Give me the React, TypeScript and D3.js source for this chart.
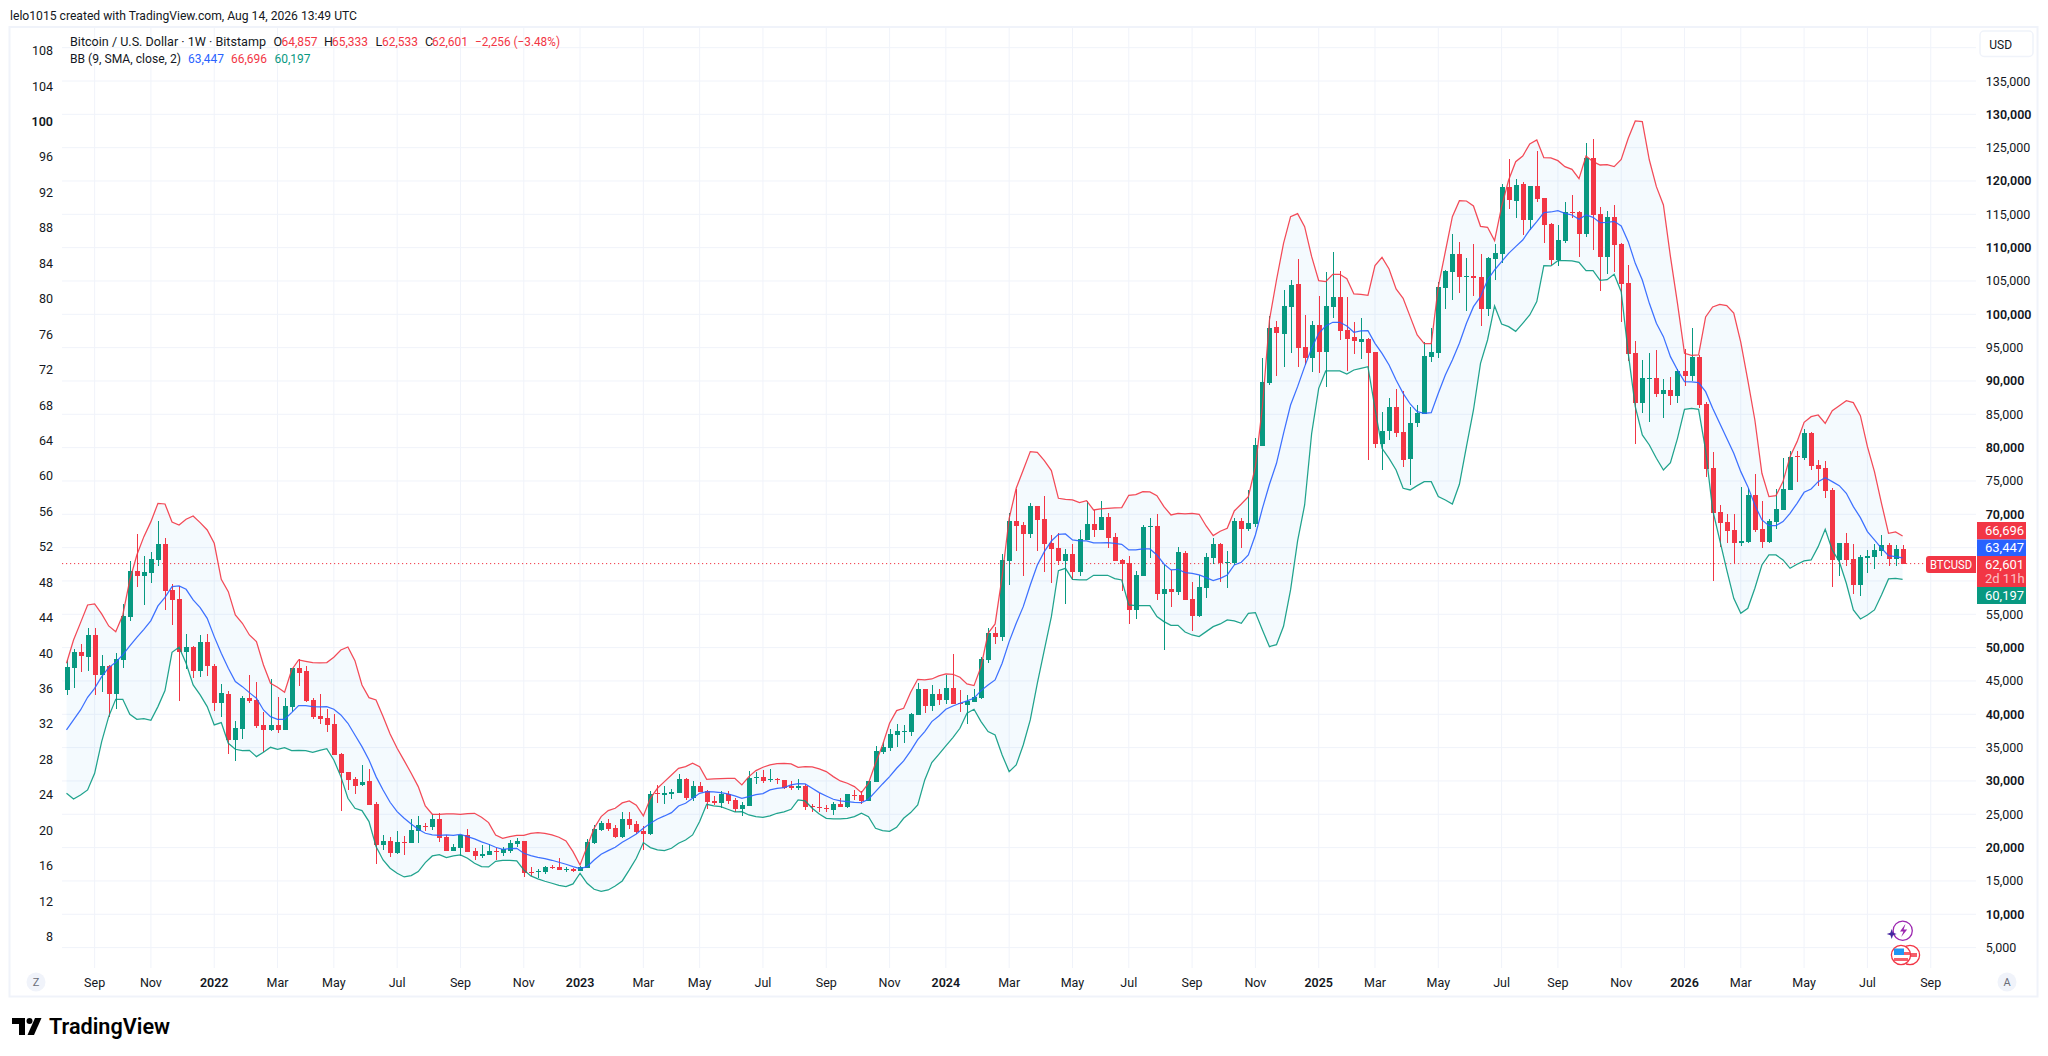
import React from "react";
import * as d3 from "d3";

// Weekly candles from the week of 9 Aug 2021, USD thousands
const opens = [
43.65,47.0,49.35,48.6,51.9,45.9,47.3,43.05,48.15,54.6,
61.5,60.75,61.2,63.15,65.55,58.65,57.3,49.35,50.1,46.5,
50.85,47.25,41.7,43.05,36.15,37.8,42.45,42.15,38.4,37.65,
38.4,37.65,41.1,46.95,46.5,42.15,39.75,39.45,38.55,34.05,
31.35,30.3,29.4,30,26.55,20.4,21,19.2,20.85,20.7,
22.5,23.25,23.1,24.3,21.65,19.5,19.95,21.9,19.5,18.75,
18.9,19.5,19.2,19.5,20.55,21,16.35,16.3,16.35,17.1,
17.1,16.75,16.8,16.5,16.95,20.7,22.65,23.7,22.95,21.6,
24.3,23.55,22.5,22.05,28.15,27.9,28.05,28.2,30.3,27.45,
29.25,28.5,27,26.7,28.05,27.15,25.8,26.25,30.45,30.6,
30.15,30.3,30.15,29.25,28.95,29.25,26.2,26.1,25.95,25.65,
26.55,26.1,27.9,27.9,27,29.85,34.35,34.95,36.9,37.4,
37.35,39.9,43.8,41.25,43.05,42.15,43.95,41.7,41.4,41.85,
42.45,48.15,52.2,51.6,63,69,68.4,67.05,71.25,69.3,
65.7,64.95,63,64.05,61.35,66.15,68.55,67.65,69.6,66.6,
63.15,62.7,55.65,60.75,68.15,68.25,58.05,58.8,58.35,64.2,
57.3,54.75,58.95,63.45,65.55,62.75,62.7,69,67.8,68.55,
80.25,89.7,98.1,97.05,101.1,104.55,95.1,93.45,98.4,94.35,
101.1,102.6,97.65,96.6,95.85,96.3,94.35,80.55,82.5,86.1,
82.35,78.3,83.7,85.05,93.6,94.2,103.95,106.35,109.05,105.65,
105.75,105.6,100.8,108.3,109.05,119.1,117,119.55,114.15,119.25,
117.45,113.55,108.15,111,115.35,115.35,112.05,123.45,115.05,108.6,
114.6,110.55,104.7,94.2,86.7,90.35,90.45,88.05,88.65,87.75,
91.5,90.75,93.6,86.55,76.95,70.35,68.85,67.65,65.7,65.85,
72.9,67.8,65.85,68.85,70.65,73.65,78.7,78.45,82.2,77.4,
76.95,73.65,63.15,65.7,63.3,59.4,63.45,63.6,64.5,65.4,
63.3,64.857];

const closes = [
47.15,49.35,48.75,51.9,45.9,47.25,43.05,48.3,54.75,61.5,
60.75,61.35,63.3,65.55,58.5,57.15,49.35,50.1,46.5,50.85,
47.25,41.7,43.2,36.15,37.95,42.45,42,38.25,37.65,38.4,
37.65,41.25,46.95,46.2,42,39.6,39.3,38.4,33.9,31.2,
30.15,29.25,29.85,26.4,20.4,21,19.2,20.85,20.8,22.65,
23.4,23.1,24.3,21.45,19.5,20.1,21.9,19.35,18.75,19.05,
19.5,19.35,19.8,20.7,21,16.2,16.3,16.5,17.1,17.05,
16.65,16.8,16.5,17.1,20.85,22.8,23.7,22.8,21.6,24.3,
23.4,22.35,22.05,28.05,28.05,28.2,28.35,30.3,27.45,29.25,
28.35,26.85,26.7,28.05,27,25.8,26.4,30.45,30.55,30,
30.3,30.1,28.95,28.95,29.25,26.1,26.1,26,25.9,26.55,
26.1,28.05,27.85,27,30,34.5,35.1,37.05,37.5,37.5,
40.05,43.8,41.25,43.05,42.15,43.95,41.55,41.65,42,42.6,
48.3,52.2,51.6,63.15,69,68.25,67.05,71.25,69.15,65.55,
64.8,63,64.05,61.35,66.3,68.55,67.65,69.6,66.45,63,
62.55,55.65,60.9,68.1,68.25,58.05,58.8,58.35,64.35,57.15,
54.75,59.1,63.6,65.55,62.7,62.85,69,67.8,68.7,80.4,
89.85,97.95,97.2,101.25,104.4,94.95,93.45,98.4,94.35,101.25,
102.6,97.5,96.3,96,96.3,94.2,80.55,82.5,86.1,82.2,
78.15,83.7,85.2,93.75,94.35,104.1,106.5,109.05,105.6,105.75,
105.45,100.8,108.45,109.2,119.1,117.15,119.4,114.15,119.25,117.3,
113.4,108.15,111.15,115.35,115.15,112.05,123.45,114.9,108.6,114.6,
110.4,104.55,94.05,86.7,90.45,90.45,88.05,88.65,87.75,91.5,
90.75,93.6,86.4,76.8,70.2,68.7,67.5,65.7,66,72.9,
67.65,65.85,69,70.8,73.8,78.6,78.6,82.2,77.25,76.8,
73.5,63.15,65.7,63.15,59.4,63.6,63.75,64.65,65.4,63.3,
64.8,62.601];

const highs = [
48.15,49.8,50.55,52.9,52.95,48.9,47.4,49.15,56.55,63,
67.05,63.75,64.35,69,66.45,59.55,59.25,52.05,50.25,51.9,
52.05,47.55,44.55,43.5,39,42.75,45.9,44.85,40.35,45.3,
42.65,42.45,46.95,48.3,47.25,42.45,43.05,40.8,40.05,34.15,
31.35,30.6,32.4,31.8,26.85,21.9,21.6,22.5,21.75,24.3,
24.75,23.7,25.05,25.2,21.9,20.55,21.9,22.8,19.95,20.4,
20.55,19.95,20.1,21.15,21.45,21,17.1,16.8,17.25,17.4,
18.45,17.1,16.95,17.25,21.3,23.4,24,24.3,23.4,25.35,
25.35,24,23.25,28.5,29.4,29.25,28.8,31.05,30.45,30,
29.85,28.65,27.75,28.5,28.5,27.45,26.85,31.5,31.35,31.65,
31.8,30.45,30.15,30,30.3,29.55,26.55,28.2,26.4,26.85,
27.45,28.05,28.65,28.5,30,35.25,35.85,37.8,38.55,38.4,
40.2,44.7,43.8,44.4,43.8,45.9,49.05,43.65,42.9,43.8,
48.6,52.95,53.1,64.05,70.2,73.8,68.85,71.7,71.25,72.75,
66.9,67.2,64.8,65.55,67.65,72,70.65,72,70.2,67.2,
63.3,63.75,61.5,68.4,69.45,70.05,62.4,61.65,65.1,64.5,
59.85,60.9,64.2,66.45,65.7,64.5,69.45,69.45,73.65,81.45,
93.45,99.75,99,103.65,105.15,108.3,99.9,99,102.75,106.35,
109.35,106.5,102.6,98.85,99.45,96.45,94.35,85.35,87.45,88.8,
88.5,86.1,86.4,95.85,97.95,104.85,106.65,112.05,110.85,108.45,
110.55,109.05,108.6,110.55,119.55,123.3,120.3,119.85,119.25,124.5,
117.45,113.7,113.4,116.85,117.9,115.5,125.7,126.3,116.1,115.5,
116.4,110.7,107.4,96,93.15,94.2,94.65,90.3,90.6,91.8,
94.8,97.95,93.9,86.9,79.35,71.4,70.05,70.05,74.1,73.95,
76.05,72,69.3,73.8,78.45,79.5,79.5,82.8,82.35,78.15,
78,73.95,65.7,67.2,65.55,63.9,64.65,65.55,66.9,65.7,
65.4,65.333];

const lows = [
42.9,43.95,46.35,46.5,42.9,43.35,39.55,40.8,47,54.05,
59.1,56.4,59.7,62.25,55.65,53.4,42,46.8,45.45,45.6,
45.75,40.5,39.6,34.05,33,36.3,41.7,37.95,34.35,37.5,
37.2,37.65,40.35,44.25,41.85,39.3,38.55,37.4,33.9,25.5,
28.65,28.05,29.25,26.4,17.55,19.65,18.6,19.05,18.9,20.7,
20.7,22.5,22.65,20.85,19.5,19.5,18.75,19.35,18.15,18.45,
18.9,18.15,18.75,19.2,20.1,15.6,15.75,15.45,16.05,16.8,
16.65,16.35,16.35,16.5,16.95,20.55,22.5,22.5,21.45,21.45,
22.8,22.05,19.65,21.9,26.7,26.55,27.3,28.2,27.15,27,
28.35,25.8,26.4,25.95,26.55,25.35,24.75,26.25,29.55,29.7,
29.85,29.55,28.8,28.65,28.65,25.65,25.35,25.35,25.35,24.9,
26.1,25.95,27.15,26.55,27,29.85,34.05,34.5,35.1,35.7,
36.75,39.9,40.2,40.5,41.4,41.55,41.55,40.35,38.55,41.85,
42.3,47.7,50.55,51,59.4,64.5,60.75,66.45,64.5,61.35,
59.7,62.4,56.55,60.15,60.75,66.15,66.6,67.65,64.95,63,
58.5,53.55,54.3,60.75,63.45,57.15,49.65,56.1,57.9,57.15,
52.5,54.6,57.45,62.55,59.85,58.95,62.4,64.95,67.5,68.1,
80.25,89.4,90.75,92.1,94.2,92.1,92.4,91.35,91.2,89.1,
99.45,96.15,91.5,94.05,93.3,78.15,79.95,76.65,81.15,81.6,
77.1,74.4,83.1,85.05,92.85,93.45,100.8,102.15,103.2,100.5,
102.75,98.25,99.75,105.15,107.7,115.8,114.45,111.9,112.65,116.85,
110.7,107.4,107.25,110.7,114.45,108.6,111.6,109.65,103.5,106.05,
106.35,98.85,93,80.55,85.2,83.85,87.6,84.45,86.4,86.7,
89.25,90,85.9,75.6,60,65.1,65.7,62.55,65.25,65.7,
67.35,64.95,65.7,67.8,70.65,73.65,74.85,78.15,76.65,74.25,
72.45,59.1,60.75,62.25,58.05,57.75,61.2,61.8,63.75,62.25,
62.25,62.533];

const bbUpper = [
47.65,51.15,53.75,56.4,56.55,55.05,53.25,52.4,54.9,60.15,
63.9,66.65,68.9,71.65,71.55,68.85,68.4,69.25,69.75,68.75,
67.65,65.65,60.25,58.4,54.9,53.65,51.9,50.9,47.4,44.65,
44.05,43.3,46.65,48.15,47.95,47.75,47.7,47.75,48.55,49.65,
50.1,48.05,44.4,42.5,42.15,39.65,37.05,34.9,33.05,31.15,
29.15,26.25,25,25,25.05,25.05,25,25.1,25.15,24.55,
23.75,21.9,21.4,21.65,21.85,21.85,22.15,22.25,22.15,21.9,
21.55,21,19.4,17.4,20.15,22.9,24.65,25.55,25.9,26.7,
27,26.35,24.75,27.4,28.9,29.9,30.9,31.9,32.15,32.65,
32.15,30.25,30.3,30.35,30.4,30.4,29.4,30.65,31.55,32.05,
32.4,32.6,32.65,32.55,32.05,32.15,32.1,31.8,31.4,30.65,
30,29.65,29.15,28.25,29.65,32.65,35.4,38.65,40.55,40.9,
43.3,45.25,45.15,45.3,45.75,46.05,46,45.55,44.55,44.3,
47.15,52.15,53.55,60.65,69.4,73.9,76.65,79.4,79.3,78.05,
76.55,72.4,72.25,72.15,71.75,72.05,70.65,70.8,70.9,70.95,
71,72.85,72.95,73.4,73.35,72.8,71.15,69.9,70.15,70.05,
70.15,70,68.25,66.8,67.45,67.9,70.5,71.55,72.65,77.15,
86.15,99.15,105.15,110.65,114.65,115.1,113.15,108.65,105.05,104.9,
106,106,105.35,103.05,103,102.85,107.3,108.55,106.8,103.8,
102.4,99.65,96.9,95.6,95.6,104.15,109.4,114.65,117.05,117,
116.25,113.2,113.05,111.05,116.15,120.15,122.9,123.75,125.55,126.15,
123.5,123.45,123.05,122.15,121.75,120.35,123.75,122.9,122.4,122.45,
122.15,123.25,126.4,129,128.9,123.15,119.15,116.4,108.65,101.65,
94.15,93.85,93.9,99.6,101.1,101.5,101.3,100.2,95.8,90.1,
84.15,76.15,72.65,72.8,74.9,78.65,80.9,83.8,84.65,84.9,
83.65,85.55,86.3,87.05,86.75,84.8,80.15,76.4,71.65,67.15,
67.35,66.75];

const bbMiddle = [
37.65,39.15,40.65,42.55,43.9,45.65,47,47.8,48.9,50.25,
51.55,52.75,54.05,56.25,57.55,59.15,59.25,58.75,57.15,56,
54.4,51.65,49.15,46.9,44.9,44.15,43.25,42.4,40.65,39.65,
39.25,39.25,40.25,41.3,41.3,41.15,41.1,41.15,40.75,39.9,
38.65,36.9,35.15,33.15,30.65,28.65,26.8,25.4,24.4,23.55,
22.75,22.15,21.9,21.85,21.9,21.85,22,21.65,21.3,20.85,
20.5,20.05,19.75,19.85,19.9,19.15,18.8,18.55,18.35,18.1,
17.8,17.5,17.15,16.85,17.15,18.15,19,19.55,20.05,20.8,
21.4,22.05,22.9,23.65,24.3,24.75,25.25,26.25,26.65,27.4,
28.15,28.4,28.35,28.25,28.05,27.75,27.4,27.65,27.95,28.1,
28.65,28.9,29,29.4,29.6,29.55,28.9,28.25,27.75,27.25,
27,26.9,26.8,26.75,27.25,28.4,29.55,30.65,31.9,33,
34.5,36.2,37.4,38.9,39.75,40.75,41.25,41.65,42,42.4,
43.55,44.4,45.15,47.65,50.9,53.65,56.15,59.4,62.4,64.4,
66,67,67.05,66.15,66,66,65.7,65.7,65.75,65.65,
65.5,64.65,64.65,64.8,64.8,63.9,62.55,61.65,61.75,61.25,
61.15,60.9,60.5,60.05,60.4,60.9,62.4,62.8,63.9,66.9,
70.9,74.5,77.65,82.15,86.4,89.15,92.15,94.9,97.15,98.25,
98.8,98.8,98.25,97.3,97.5,97.55,95.65,94.15,92.4,90.15,
88.15,86.55,85.4,85.15,85.25,88.15,90.9,93.15,95.65,98.65,
101.15,102.65,105.15,106.65,107.9,109.15,110.15,111.15,112.65,113.9,
115.25,115.35,115.55,115.15,114.9,114.25,114.9,114.55,113.75,113.8,
113.95,113.25,110.9,107.65,105.15,101.65,98.65,96.65,93.65,91.65,
89.9,89.85,89.75,88.4,85.9,83.65,81.4,79.15,76.4,74.15,
71.4,69.15,68.3,68.3,68.9,70.15,71.65,73.3,73.8,74.9,
75.5,74.9,74.3,73.15,71.15,69.5,67.4,66.15,64.9,63.8,
63.65,63.45];

const bbLower = [
28.15,27.3,27.9,28.65,31.15,35.9,39.65,42.25,42.25,40,
39.25,39.35,39.1,41.15,43.55,49.3,50.05,47.65,44.4,42.9,
41.15,38.4,38.75,35.65,34.75,34.55,34.6,33.65,34.3,35.05,
34.75,35,34.55,34.6,34.55,34.3,34.6,34.85,33.15,30.65,
27.4,25.9,25.55,23.9,20.15,18.15,16.9,16.15,15.6,15.8,
16.4,17.75,18.75,18.95,18.5,18.75,18.9,18.4,17.65,17.15,
17.1,17.95,18.1,18.1,18,16.65,15.75,15.3,14.95,14.65,
14.35,14.15,14.55,16.15,14.65,13.75,13.45,13.65,14.25,15,
16.65,18.4,20.75,20,19.65,19.55,19.9,20.65,21.15,21.9,
23.9,26.5,26.25,26.15,25.75,25.35,25.4,24.9,24.65,24.55,
24.75,25.15,25.35,25.75,27.15,27,25.9,25.05,24.4,24.3,
24.3,24.4,24.65,25.15,24.65,22.9,22.55,22.45,23.05,24.4,
25.25,26.4,30.15,32.75,34,35.25,36.5,37.9,40.15,40.75,
38.9,37.4,36.9,33.9,31.4,32.4,35.4,39.15,44.65,49.65,
54.65,61.55,61.9,60.25,60.15,60.15,60.85,60.85,60.85,60.35,
60.15,56.4,56.3,56.3,56.3,54.65,53.9,53.35,53.35,52.35,
51.9,51.65,52.4,53.15,53.55,54.15,54,53.65,55.15,55.25,
52.65,50.15,50.45,53.2,58.65,66,71.4,82.15,88.9,91.5,
91.5,91.5,91.05,91.65,91.9,92.15,85.9,79.9,78.4,76.65,
73.9,73.65,74.3,74.9,74.9,72.65,72.15,71.55,74.5,80.15,
85.65,92.65,96.15,101.25,98.55,98.15,97.45,98.65,99.9,101.9,
107.3,107.25,108.05,108.05,108,107.8,106.55,106.55,105.1,105.2,
106,103.4,94.15,86.15,81.9,80.4,78.4,76.65,77.75,81.4,
85.75,85.9,85.75,79.6,70.65,66.15,61.65,57.4,55.15,55.9,
58.9,62.4,63.9,63.9,63.15,61.9,62.5,63,63.15,65.15,
67.75,64.65,62.9,59.65,55.65,54.3,54.9,55.65,57.9,60.3,
60.4,60.25];

const monthBars = [4,12,21,30,38,47,56,65,73,82,90,99,108,117,125,134,143,151,160,169,178,186,195,204,212,221,230,238,247,256,265];
const monthNames = ["Sep","Nov","2022","Mar","May","Jul","Sep","Nov","2023","Mar","May","Jul","Sep","Nov","2024","Mar","May","Jul","Sep","Nov","2025","Mar","May","Jul","Sep","Nov","2026","Mar","May","Jul","Sep"];
const rightTicks = d3.range(135, 0, -5);
const leftTicks = d3.range(108, 4, -4);

const RED = "#F23645", GREEN = "#089981", BLUE = "#2962FF", INK = "#131722", GRID = "#F0F3FA", FONT = "Roboto, sans-serif";
const LAST = 62.601, UP = 66.696, MID = 63.447, DN = 60.197;

export default function App() {
  const x = d3.scaleLinear().domain([0, 261]).range([66.5, 1902.6]);
  const y = d3.scaleLinear().domain([135, 5]).range([81, 947.6]);
  const yLeft = d3.scaleLinear().domain([108, 8]).range([50.7, 936.5]);
  const bars = d3.range(opens.length);
  const area = d3.area<number>().x(i => x(i)).y0(i => y(bbLower[i])).y1(i => y(bbUpper[i]))(bars) as string;
  const lineOf = (s: number[]) => d3.line<number>().x(i => x(i)).y(i => y(s[i]))(bars) as string;
  const fmt = d3.format(",");
  const lastY = y(LAST);
  return (
    <svg width={2048} height={1056} viewBox="0 0 2048 1056" style={{ position: "fixed", left: 0, top: 0, background: "#fff" }} fontFamily={FONT}>
      <rect width={2048} height={1056} fill="#fff" />
      <text x={10} y={19.5} fontSize={13} fill={INK} textLength={347} lengthAdjust="spacingAndGlyphs">lelo1015 created with TradingView.com, Aug 14, 2026 13:49 UTC</text>
      <rect x={9.5} y={27} width={2028} height={969.5} fill="none" stroke={GRID} strokeWidth={2} />

      {rightTicks.map(t => <line key={t} x1={62} x2={1976} y1={y(t)} y2={y(t)} stroke={GRID} />)}
      <line x1={62} x2={1976} y1={y(140)} y2={y(140)} stroke={GRID} />
      {monthBars.map(b => <line key={b} x1={x(b)} x2={x(b)} y1={28} y2={968} stroke={GRID} />)}

      <path d={area} fill="#2196F3" fillOpacity={0.05} />
      <line x1={62} x2={1926} y1={lastY} y2={lastY} stroke={RED} strokeWidth={1} strokeDasharray="1.2 2.8" />

      {bars.map(i => {
        const up = closes[i] >= opens[i];
        const c = up ? GREEN : RED;
        const cx = Math.round(x(i));
        const top = Math.round(y(Math.max(opens[i], closes[i])));
        const bot = Math.round(y(Math.min(opens[i], closes[i])));
        return (
          <g key={i} shapeRendering="crispEdges" fill={c}>
            <rect x={cx} y={y(highs[i])} width={1} height={Math.max(1, y(lows[i]) - y(highs[i]))} />
            <rect x={cx - 2} y={top} width={5} height={Math.max(1, bot - top)} />
          </g>
        );
      })}

      <path d={lineOf(bbUpper)} fill="none" stroke={RED} strokeOpacity={0.9} strokeWidth={1.25} />
      <path d={lineOf(bbLower)} fill="none" stroke={GREEN} strokeOpacity={0.9} strokeWidth={1.25} />
      <path d={lineOf(bbMiddle)} fill="none" stroke={BLUE} strokeOpacity={0.9} strokeWidth={1.25} />

      {leftTicks.map(t => (
        <text key={t} x={53} y={yLeft(t)} dy="0.36em" textAnchor="end" fontSize={12.5} fill={INK} fontWeight={t === 100 ? 600 : 400}>{t}</text>
      ))}
      {rightTicks.map(t => (
        <text key={t} x={1985.7} y={y(t)} dy="0.36em" fontSize={12.5} fill={INK} fontWeight={t % 10 === 0 ? 600 : 400}>{fmt(t * 1000)}</text>
      ))}
      {monthBars.map((b, k) => (
        <text key={b} x={x(b)} y={982} dy="0.36em" textAnchor="middle" fontSize={12.5} fill={INK} fontWeight={/^\d/.test(monthNames[k]) ? 600 : 400}>{monthNames[k]}</text>
      ))}

      <g fontSize={12.5}>
        <text x={70} y={46} fill={INK} textLength={196} lengthAdjust="spacingAndGlyphs">Bitcoin / U.S. Dollar · 1W · Bitstamp</text>
        <text x={273.5} y={46} fill={INK}>O</text>
        <text x={281.5} y={46} fill={RED} textLength={36} lengthAdjust="spacingAndGlyphs">64,857</text>
        <text x={324} y={46} fill={INK}>H</text>
        <text x={332} y={46} fill={RED} textLength={36} lengthAdjust="spacingAndGlyphs">65,333</text>
        <text x={375.5} y={46} fill={INK}>L</text>
        <text x={382} y={46} fill={RED} textLength={36} lengthAdjust="spacingAndGlyphs">62,533</text>
        <text x={425} y={46} fill={INK}>C</text>
        <text x={432} y={46} fill={RED} textLength={36} lengthAdjust="spacingAndGlyphs">62,601</text>
        <text x={475} y={46} fill={RED} textLength={85} lengthAdjust="spacingAndGlyphs">−2,256 (−3.48%)</text>
        <text x={70} y={63} fill={INK} textLength={111} lengthAdjust="spacingAndGlyphs">BB (9, SMA, close, 2)</text>
        <text x={188} y={63} fill={BLUE} textLength={36} lengthAdjust="spacingAndGlyphs">{fmt(MID * 1000)}</text>
        <text x={231} y={63} fill={RED} textLength={36} lengthAdjust="spacingAndGlyphs">{fmt(UP * 1000)}</text>
        <text x={274.5} y={63} fill={GREEN} textLength={36} lengthAdjust="spacingAndGlyphs">{fmt(DN * 1000)}</text>
      </g>

      <rect x={1980} y={31} width={53} height={25.5} rx={4} fill="#fff" stroke={GRID} strokeWidth={1.5} />
      <text x={1989.3} y={44.7} dy="0.36em" fontSize={12} fill={INK}>USD</text>

      <g fontSize={13} fill="#fff" fontWeight={400}>
        <rect x={1977} y={522} width={49} height={17.5} fill={RED} />
        <rect x={1977} y={539.5} width={49} height={16.5} fill={BLUE} />
        <rect x={1977} y={556} width={49} height={31} fill={RED} />
        <rect x={1977} y={587} width={49} height={17} fill={GREEN} />
        <text x={1985} y={530.5} dy="0.36em">{fmt(UP * 1000)}</text>
        <text x={1985} y={547.5} dy="0.36em">{fmt(MID * 1000)}</text>
        <text x={1985} y={564} dy="0.36em">{fmt(LAST * 1000)}</text>
        <text x={1985} y={578} dy="0.36em" fillOpacity={0.7}>2d 11h</text>
        <text x={1985} y={595} dy="0.36em">{fmt(DN * 1000)}</text>
        <path d="M1976 556H1929a3 3 0 0 0 -3 3V570a3 3 0 0 0 3 3H1976Z" fill={RED} />
        <text x={1930} y={564.5} dy="0.36em" textLength={42} lengthAdjust="spacingAndGlyphs">BTCUSD</text>
      </g>

      <circle cx={36} cy={982} r={9.5} fill={GRID} />
      <text x={36} y={982} dy="0.36em" textAnchor="middle" fontSize={11} fill="#6a6d78">Z</text>
      <circle cx={2007} cy={982} r={9.5} fill={GRID} />
      <text x={2007} y={982} dy="0.36em" textAnchor="middle" fontSize={11} fill="#6a6d78">A</text>

      <g>
        <circle cx={1902.7} cy={930.7} r={9.6} fill="#fff" stroke="#9C27B0" strokeWidth={1.3} />
        <path d="M1905 924.5l-5 7h3.4l-2.2 5.5l6-7.4h-3.6l1.8-5.1z" fill="#9C27B0" />
        <path d="M1891.7 929l1.3 3.7l3.7 1.3l-3.7 1.3l-1.3 3.7l-1.3-3.7l-3.7-1.3l3.7-1.3z" fill="#4527A0" />
        <circle cx={1910} cy={955} r={9.6} fill="#fff" stroke={RED} strokeWidth={1.3} />
        <rect x={1910} y={953} width={7} height={4} fill={RED} fillOpacity={0.8} />
        <circle cx={1901} cy={955} r={9.6} fill="#fff" stroke={RED} strokeWidth={1.3} />
        <path d="M1894 948.5H1904V955H1894Z" fill="#2196F3" />
        <rect x={1904} y={952} width={6} height={3} fill={RED} fillOpacity={0.8} />
        <rect x={1894} y={958} width={14} height={3} fill={RED} fillOpacity={0.8} />
      </g>

      <g fill="#000">
        <path d="M12 1018H25V1035H19V1024H12Z" />
        <circle cx={29.5} cy={1021} r={3} />
        <path d="M35 1018H41.5L34 1035H27.5Z" />
      </g>
      <text x={49} y={1034} fontSize={21.5} fontWeight={600} fill="#000" textLength={121} lengthAdjust="spacingAndGlyphs">TradingView</text>
    </svg>
  );
}
